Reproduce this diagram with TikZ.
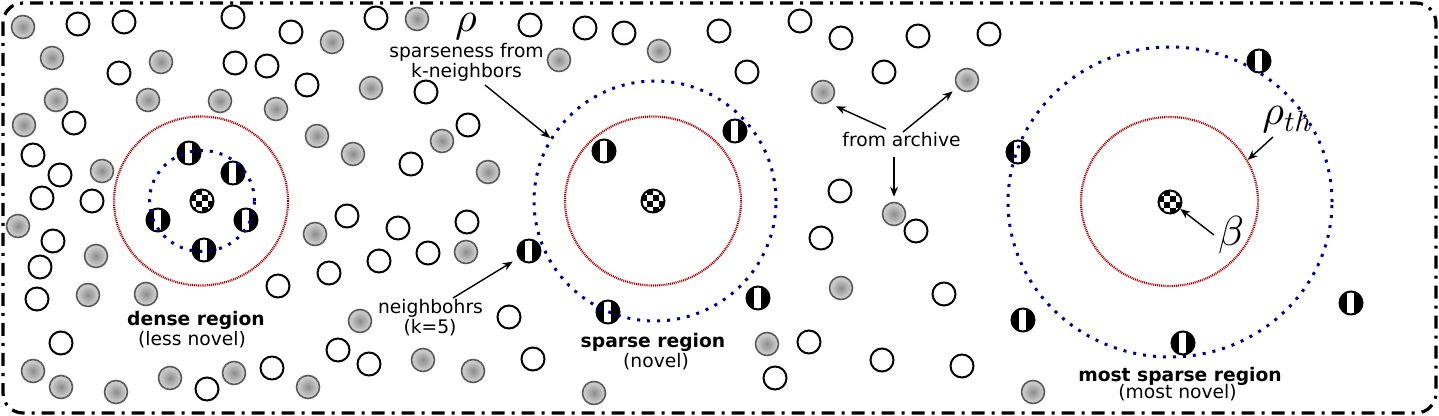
\documentclass[tikz,border=0pt]{standalone}
\usepackage{fontspec}
\setmainfont{DejaVu Sans}
\usetikzlibrary{shapes.geometric,arrows.meta}
\DeclareFontFamily{OML}{cmmten}{\skewchar\font127}
\DeclareFontShape{OML}{cmmten}{m}{it}{<->cmmi10}{}
\DeclareSymbolFont{letters}{OML}{cmmten}{m}{it}
\definecolor{ringred}{RGB}{170,0,0}
\definecolor{ringblue}{RGB}{0,0,150}
\definecolor{ballrim}{RGB}{90,90,90}
\definecolor{ballc}{RGB}{140,140,140}
\definecolor{ballm}{RGB}{200,200,200}
\definecolor{balle}{RGB}{242,242,242}
\pgfdeclareradialshading{ball}{\pgfpoint{0bp}{0bp}}{color(0bp)=(ballc);color(20bp)=(ballm);color(50bp)=(balle);color(72bp)=(balle)}
\tikzset{
  wp/.style={circle, draw=black, fill=white, line width=1pt, minimum size=11.5pt, inner sep=0pt},
  gp/.style={circle, draw=ballrim, line width=0.8pt, minimum size=11.5pt, inner sep=0pt, shading=ball},
  nbp/.style={circle, draw=black, fill=black, line width=1pt, minimum size=11.5pt, inner sep=0pt,
    path picture={\fill[white] ([xshift=-1.9pt]path picture bounding box.south) rectangle ([xshift=1.6pt]path picture bounding box.north);}},
  ckp/.style={circle, draw=black, fill=white, line width=1pt, minimum size=11.5pt, inner sep=0pt,
    path picture={\foreach \a/\b in {0/0,2/0,1/1,3/1,0/2,2/2,1/3,3/3}{\fill[black] ([shift={(\a*2.875pt,\b*2.875pt)}]path picture bounding box.south west) rectangle ++(2.875pt,2.875pt);}}},
  redring/.style={ellipse, draw=ringred, line width=1.1pt, dash pattern=on 0.5pt off 0.45pt, inner sep=0pt},
  bluering/.style={ellipse, draw=ringblue, line width=1.5pt, dash pattern=on 1.5pt off 3.5pt, inner sep=0pt},
  lbl/.style={font=\fontsize{9.35pt}{11pt}\selectfont, inner sep=0pt, anchor=base},
  mlbl/.style={font=\fontsize{21pt}{24pt}\selectfont, inner sep=0pt},
  arr/.style={-{Stealth[length=5pt,width=4pt]}, line width=0.7pt},
  frame/.style={line width=1.6pt, rounded corners=10pt, dash pattern=on 6.5pt off 3.5pt on 1.5pt off 3.5pt}
}
\begin{document}
\begin{tikzpicture}[x=0.5pt,y=-0.5pt]
\useasboundingbox (0,0) rectangle (1439,416);
\draw[frame] (3,3) rectangle (1436,413);
% gray particles (archive)
\foreach \x/\y [count=\i] in {23/27,52/58,161/62,56/100,148/100,220/101,276/109,24/125,102/171,18/226,96/256,88/295,146/294,33/371,61/387,116/392,170/378,234/373,
  417/19,332/42,559/60,371/88,317/136,442/141,353/154,488/172,315/234,466/252,360/321,423/360,473/371,308/387,
  659/51,841/288,767/344,594/393,1033/392}
  \node[gp] (g\i) at (\x,\y) {};
\node[gp] (gA) at (823,92) {};
\node[gp] (gB) at (967,80) {};
\node[gp] (gC) at (894,214) {};
% white particles (population)
\foreach \x/\y [count=\i] in {78/24,124/22,233/17,291/32,119/73,235/63,267/66,74/123,33/155,60/175,42/198,92/201,53/241,40/267,37/299,278/286,61/343,207/389,272/368,
  376/18,530/25,585/28,307/85,426/92,468/125,411/164,347/216,398/228,467/222,428/253,379/261,329/273,509/317,338/350,369/364,533/359,
  624/33,719/31,800/21,841/38,747/72,840/191,821/238,809/342,775/378,
  918/36,989/34,884/72,916/231,944/294,882/360,962/366}
  \node[wp] (w\i) at (\x,\y) {};
% neighbours
\foreach \x/\y [count=\i] in {189/153,233/173,158/220,246/220,204/250,
  604/151,735/131,758/298,608/312,
  1018/152,1023/320,1259/61,1183/343,1351/303}
  \node[nbp] (n\i) at (\x,\y) {};
\node[nbp] (nK) at (529,251) {};
% individuals under evaluation
\node[ckp] (c1) at (202,201) {};
\node[ckp] (c2) at (653,201) {};
\node[ckp] (c3) at (1170,202) {};
% regions
\node[redring, minimum width=87pt, minimum height=84.5pt] (dred) at (201,201) {};
\node[redring, minimum width=88pt, minimum height=84.5pt] (sred) at (653,201) {};
\node[redring, minimum width=88.5pt, minimum height=84.5pt] (mred) at (1169.5,201.5) {};
\node[bluering, minimum width=52.5pt, minimum height=50.5pt] (dblue) at (202,201) {};
\node[bluering, minimum width=121pt, minimum height=120pt] (sblue) at (655,201) {};
\node[bluering, minimum width=162pt, minimum height=155pt] (mblue) at (1170,202) {};
% labels
\node[mlbl] (rho) at (466,27) {$\rho$};
\node[lbl] (spA) at (466.5,57.5) {sparseness from};
\node[lbl] (spB) at (466.5,77.5) {k-neighbors};
\node[lbl] (dnA) at (196,326) {\textbf{dense region}};
\node[lbl] (dnB) at (192,346) {(less novel)};
\node[lbl] (nbA) at (430.5,314) {neighbohrs};
\node[lbl] (nbB) at (430,334) {(k=5)};
\node[lbl] (srA) at (653,347.5) {\textbf{sparse region}};
\node[lbl] (srB) at (656,367) {(novel)};
\node[lbl] (arch) at (901.5,147) {from archive};
\node[lbl] (msA) at (1180,381.5) {\textbf{most sparse region}};
\node[lbl] (msB) at (1177.5,399) {(most novel)};
\node[mlbl, anchor=base west] (rhoth) at (1262,125) {$\rho_{th}$};
\node[mlbl] (beta) at (1231,235) {$\beta$};
% arrows
\coordinate (s1) at (485,85);
\coordinate (s2) at (453,298);
\coordinate (s3) at (886,129);
\coordinate (s4) at (903,132);
\coordinate (s5) at (894,157);
\coordinate (s6) at (1273,137);
\coordinate (s7) at (1214,235);
\draw[arr] (s1) -- (sblue.149);
\draw[arr, shorten >=3.5pt] (s2) -- (nK.214);
\draw[arr, shorten >=4pt] (s3) -- (gA.-63);
\draw[arr, shorten >=3pt] (s4) -- (gB.218);
\draw[arr, shorten >=2.5pt] (s5) -- (gC.north);
\draw[arr] (s6) -- (mred.28);
\draw[arr] (s7) -- (c3.-34);
\end{tikzpicture}
\end{document}
